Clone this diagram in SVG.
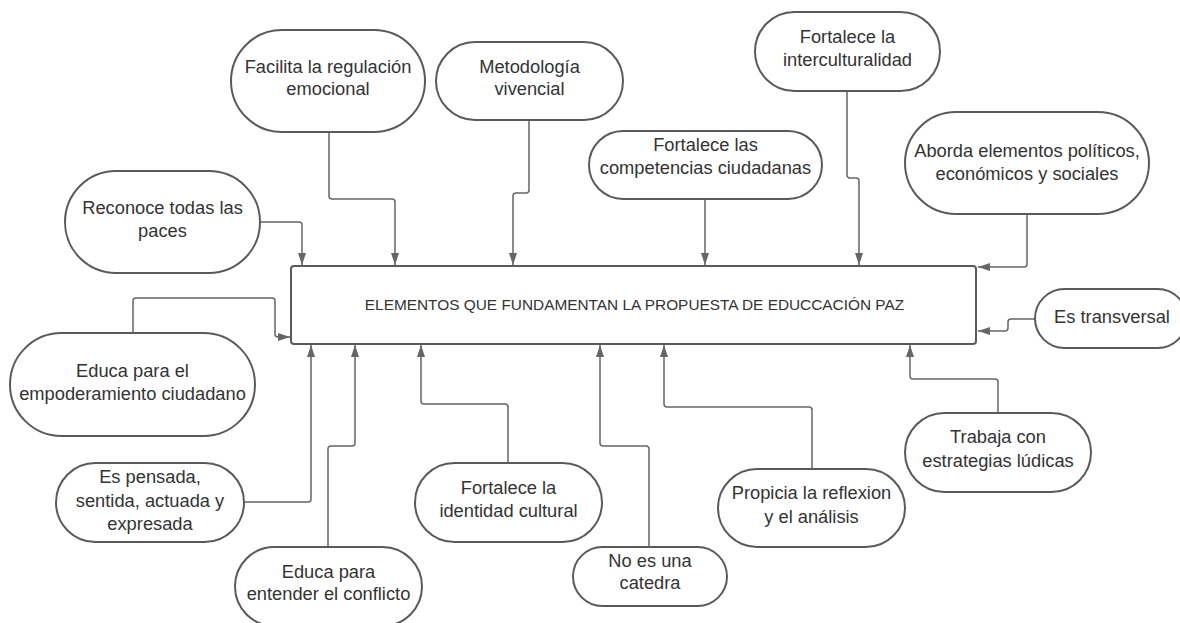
<svg xmlns="http://www.w3.org/2000/svg" width="1180" height="623" viewBox="0 0 1180 623">
<defs>
<marker id="arr" markerUnits="userSpaceOnUse" markerWidth="13" markerHeight="9" refX="12" refY="4" orient="auto">
<path d="M0,0 L12,4 L0,8 z" fill="#666"/>
</marker>
<style>
.n{fill:#fff;stroke:#5a5a5a;stroke-width:2}
.t{font-family:"Liberation Sans",Arial,sans-serif;font-size:18.3px;fill:#333;text-anchor:middle}
.c{fill:none;stroke:#666;stroke-width:1.5;marker-end:url(#arr)}
</style>
</defs>
<rect width="1180" height="623" fill="#fff"/>
<g id="connectors">
<path class="c" d="M329,132 V196 Q329,199 332,199 H392 Q395,199 395,202 V265"/>
<path class="c" d="M260,222 H299 Q302,222 302,225 V265"/>
<path class="c" d="M529,120 V190 Q529,193 526,193 H516 Q513,193 513,196 V265"/>
<path class="c" d="M705,199 V265"/>
<path class="c" d="M847,91 V175 Q847,178 850,178 H856 Q859,178 859,181 V265"/>
<path class="c" d="M1027,214 V264 Q1027,267 1024,267 H978"/>
<path class="c" d="M1035,319 H1011 Q1008,319 1008,322 V328 Q1008,331 1005,331 H978"/>
<path class="c" d="M998,413 V382 Q998,379 995,379 H913 Q910,379 910,376 V345"/>
<path class="c" d="M812,469 V410 Q812,407 809,407 H667 Q664,407 664,404 V345"/>
<path class="c" d="M649,547 V449 Q649,446 646,446 H603 Q600,446 600,443 V345"/>
<path class="c" d="M508,463 V407 Q508,404 505,404 H424 Q421,404 421,401 V345"/>
<path class="c" d="M328,547 V449 Q328,446 331,446 H352 Q355,446 355,443 V345"/>
<path class="c" d="M244,502 H308 Q311,502 311,499 V345"/>
<path class="c" d="M133,333 V301 Q133,298 136,298 H272 Q275,298 275,301 V334 Q275,337 278,337 H290"/>
</g>
<g id="center">
<rect class="n" x="291" y="266" width="685" height="78" rx="3"/>
<text x="634.5" y="310" style="font-family:'Liberation Sans',Arial,sans-serif;font-size:15.4px;fill:#333;text-anchor:middle">ELEMENTOS QUE FUNDAMENTAN LA PROPUESTA DE EDUCCACIÓN PAZ</text>
</g>
<g id="n1"><rect class="n" x="231" y="30" width="194" height="102" rx="51"/><text class="t" x="328" y="73">Facilita la regulación</text><text class="t" x="328" y="95">emocional</text></g>
<g id="n2"><rect class="n" x="436" y="42" width="187" height="78" rx="39"/><text class="t" x="529.5" y="73">Metodología</text><text class="t" x="529.5" y="95">vivencial</text></g>
<g id="n3"><rect class="n" x="589" y="131" width="233" height="68" rx="34"/><text class="t" x="705.5" y="151">Fortalece las</text><text class="t" x="705.5" y="174">competencias ciudadanas</text></g>
<g id="n4"><rect class="n" x="755" y="12" width="185" height="79" rx="39.5"/><text class="t" x="847.5" y="43">Fortalece la</text><text class="t" x="847.5" y="66">interculturalidad</text></g>
<g id="n5"><rect class="n" x="905" y="112" width="244" height="102" rx="51"/><text class="t" x="1027" y="157">Aborda elementos políticos,</text><text class="t" x="1027" y="180">económicos y sociales</text></g>
<g id="n6"><rect class="n" x="65" y="171" width="195" height="102" rx="51"/><text class="t" x="162.5" y="214">Reconoce todas las</text><text class="t" x="162.5" y="237">paces</text></g>
<g id="n7"><rect class="n" x="10" y="333" width="245" height="103" rx="51.5"/><text class="t" x="132.5" y="377">Educa para el</text><text class="t" x="132.5" y="400">empoderamiento ciudadano</text></g>
<g id="n8"><rect class="n" x="56" y="463" width="188" height="79" rx="39.5"/><text class="t" x="150" y="483">Es pensada,</text><text class="t" x="150" y="507">sentida, actuada y</text><text class="t" x="150" y="530">expresada</text></g>
<g id="n9"><rect class="n" x="235" y="547" width="187" height="79" rx="39.5"/><text class="t" x="328.5" y="578">Educa para</text><text class="t" x="328.5" y="600">entender el conflicto</text></g>
<g id="n10"><rect class="n" x="415" y="463" width="187" height="79" rx="39.5"/><text class="t" x="508.5" y="494">Fortalece la</text><text class="t" x="508.5" y="517">identidad cultural</text></g>
<g id="n11"><rect class="n" x="573" y="547" width="154" height="59" rx="29.5"/><text class="t" x="650" y="567">No es una</text><text class="t" x="650" y="589">catedra</text></g>
<g id="n12"><rect class="n" x="718" y="469" width="187" height="78" rx="39"/><text class="t" x="811.5" y="499">Propicia la reflexion</text><text class="t" x="811.5" y="523">y el análisis</text></g>
<g id="n13"><rect class="n" x="905" y="413" width="186" height="79" rx="39.5"/><text class="t" x="998" y="443">Trabaja con</text><text class="t" x="998" y="467">estrategias lúdicas</text></g>
<g id="n14"><rect class="n" x="1035" y="289" width="152" height="59" rx="29.5"/><text class="t" x="1112" y="323">Es transversal</text></g>
</svg>
